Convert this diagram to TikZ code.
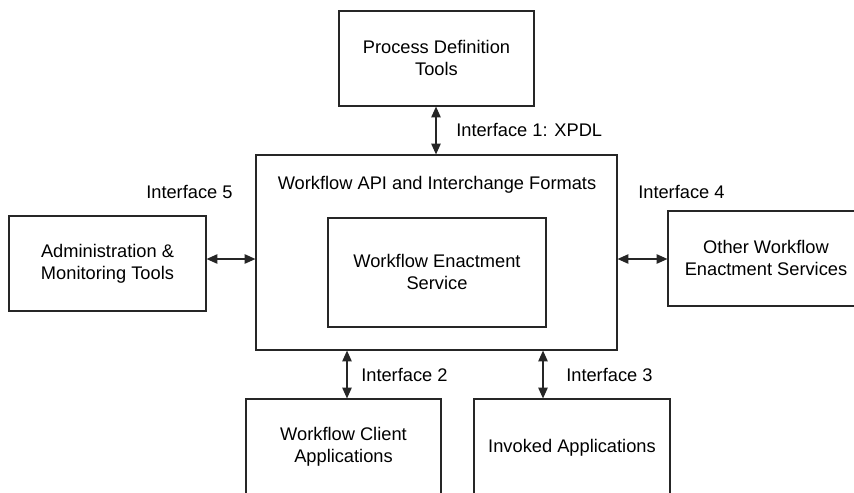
\documentclass[tikz,border=0pt]{standalone}
\usepackage{fontspec}
\setmainfont{Liberation Sans}
\usetikzlibrary{fit,arrows.meta}
\begin{document}
\begin{tikzpicture}[x=0.75pt,y=-0.75pt,
  box/.style={draw=black!85, line width=0.9pt, inner sep=0pt},
  txt/.style={align=center, inner sep=0pt, font=\fontsize{13.7}{16.5}\selectfont},
  lbl/.style={font=\fontsize{13.7}{16.5}\selectfont, inner sep=0pt, anchor=west},
  arr/.style={draw=black!85, line width=0.9pt, {Triangle[length=8pt,width=7pt]}-{Triangle[length=8pt,width=7pt]}}]
\useasboundingbox (0,0) rectangle (854,493);
\clip (0,0) rectangle (854,493);
\node[box, fit={(339,11) (534,106)}] (pdt) {};
\node[txt] (tpdt) at ([yshift=0.5pt]pdt.center) {Process Definition\\Tools};
\node[box, fit={(256,155) (617,350)}] (main) {};
\node[lbl, anchor=center] (api) at (437,185) {Workflow API and Interchange Formats};
\node[box, fit={(328,218) (546,327)}] (wes) {};
\node[txt] (twes) at ([yshift=0.5pt]wes.center) {Workflow Enactment\\Service};
\node[box, fit={(9,216) (206,311)}] (adm) {};
\node[txt] (tadm) at ([yshift=-0.5pt]adm.center) {Administration \&\\Monitoring Tools};
\node[box, fit={(668,211) (864,306)}] (other) {};
\node[txt] (tother) at ([yshift=0.5pt]other.center) {Other Workflow\\Enactment Services};
\node[box, fit={(246,399) (441,494)}] (client) {};
\node[txt] (tclient) at ([yshift=-0.5pt]client.center) {Workflow Client\\Applications};
\node[box, fit={(474,399) (670,494)}] (inv) {};
\node[txt] (tinv) at ([yshift=-0.8pt]inv.center) {Invoked Applications};
\coordinate (c1) at (436,0);
\coordinate (c2) at (347,0);
\coordinate (c3) at (543,0);
\coordinate (r45) at (0,259);
\draw[arr] (pdt.south -| c1) -- (main.north -| c1);
\draw[arr] (adm.east |- r45) -- (main.west |- r45);
\draw[arr] (main.east |- r45) -- (other.west |- r45);
\draw[arr] (main.south -| c2) -- (client.north -| c2);
\draw[arr] (main.south -| c3) -- (inv.north -| c3);
\node[lbl] (l1) at (456,130) {Interface 1: XPDL};
\node[lbl] (l5) at (146,192) {Interface 5};
\node[lbl] (l4) at (638,192) {Interface 4};
\node[lbl] (l2) at (361,375) {Interface 2};
\node[lbl] (l3) at (566,375) {Interface 3};
\end{tikzpicture}
\end{document}
